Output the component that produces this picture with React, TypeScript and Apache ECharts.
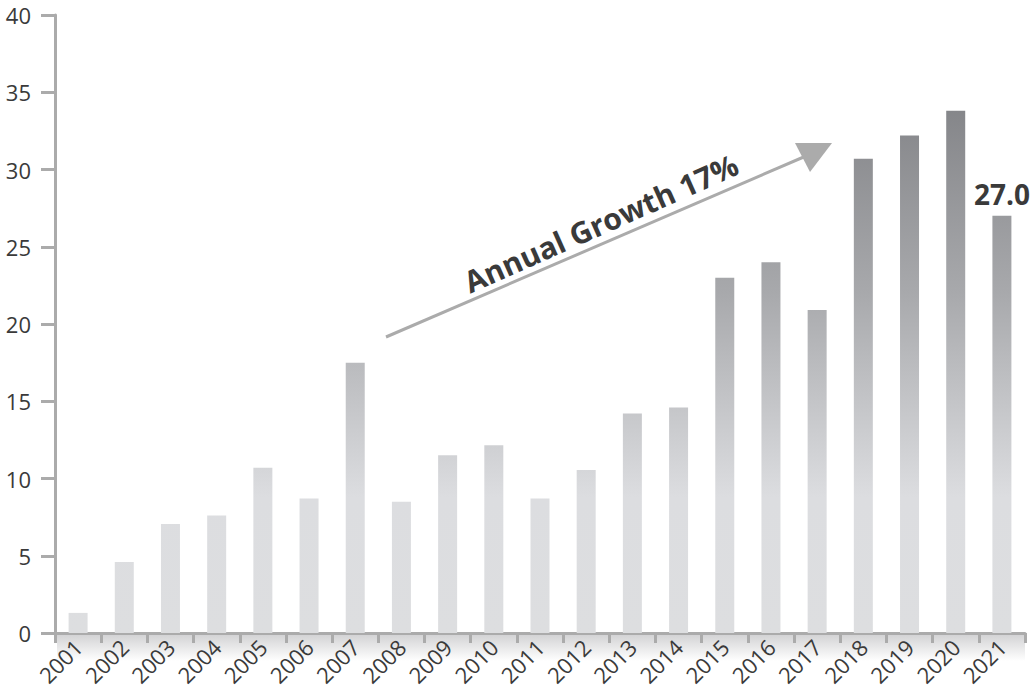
import React, { useEffect, useRef } from "react";
import * as echarts from "echarts";

const years = ["2001","2002","2003","2004","2005","2006","2007","2008","2009","2010","2011","2012","2013","2014","2015","2016","2017","2018","2019","2020","2021"];
const values = [1.3, 4.6, 7.05, 7.6, 10.7, 8.7, 17.5, 8.5, 11.5, 12.15, 8.7, 10.55, 14.2, 14.6, 23.0, 24.0, 20.9, 30.7, 32.2, 33.8, 27.0];
const yTicks = { min: 0, max: 40, interval: 5 };
const growthText = "Annual Growth 17%";

export default function App() {
  const ref = useRef<HTMLDivElement>(null);
  useEffect(() => {
    const chart = echarts.init(ref.current!, null, { renderer: "svg" });
    const axisColor = "#ababab";
    const barGrad = new echarts.graphic.LinearGradient(0, 15, 0, 633, [
      { offset: 0, color: "#737478" },
      { offset: 0.45, color: "#a8a9ac" },
      { offset: 0.78, color: "#dcdde0" },
      { offset: 1, color: "#dddee0" },
    ], true);
    const ang = (24 * Math.PI) / 180;
    chart.setOption({
      animation: false,
      grid: { left: 55, right: 10, top: 15, bottom: 64, containLabel: false },
      xAxis: {
        type: "category",
        data: years,
        boundaryGap: true,
        axisLine: { lineStyle: { color: axisColor, width: 3 } },
        axisTick: { show: true, length: 10, lineStyle: { color: axisColor, width: 3 }, alignWithLabel: false },
        axisLabel: {
          rotate: 45,
          interval: 0,
          color: "#3a3a3a",
          fontSize: 22,
          fontFamily: "Open Sans",
          margin: 10,
        },
      },
      yAxis: {
        type: "value",
        min: yTicks.min,
        max: yTicks.max,
        interval: yTicks.interval,
        axisLine: { show: true, lineStyle: { color: axisColor, width: 3 } },
        axisTick: { show: true, length: 14, lineStyle: { color: axisColor, width: 3 } },
        splitLine: { show: false },
        axisLabel: { color: "#3a3a3a", fontSize: 22, fontFamily: "Open Sans", margin: 24 },
      },
      graphic: [
        {
          type: "rect",
          z: -1,
          shape: { x: 57, y: 635, width: 968, height: 26 },
          style: {
            fill: new echarts.graphic.LinearGradient(0, 0, 0, 1, [
              { offset: 0, color: "rgba(110,110,115,0.3)" },
              { offset: 1, color: "rgba(110,110,115,0)" },
            ]),
          },
        },
        {
          type: "line",
          shape: { x1: 386, y1: 337, x2: 806, y2: 156 },
          style: { stroke: "#ababab", lineWidth: 3 },
        },
        {
          type: "polygon",
          shape: { points: [[795, 143], [832, 143], [810, 172]] },
          style: { fill: "#ababab" },
        },
        {
          type: "text",
          x: 601,
          y: 223,
          rotation: ang,
          style: {
            text: growthText,
            fill: "#3a3a3a",
            font: "bold 30px 'Open Sans'",
            align: "center",
            verticalAlign: "middle",
          },
        },
      ],
      series: [
        {
          type: "bar",
          data: values.map((v, i) =>
            i === values.length - 1
              ? {
                  value: v,
                  label: {
                    show: true,
                    position: "top",
                    distance: 8,
                    formatter: (p: any) => p.value.toFixed(1),
                    color: "#3a3a3a",
                    fontSize: 28,
                    fontWeight: "bold",
                    fontFamily: "Open Sans",
                  },
                }
              : v
          ),
          barWidth: 19,
          itemStyle: { color: barGrad },
        },
      ],
    });
    return () => chart.dispose();
  }, []);
  return <div ref={ref} style={{ position: "absolute", left: 0, top: 0, width: 1035, height: 697 }} />;
}
